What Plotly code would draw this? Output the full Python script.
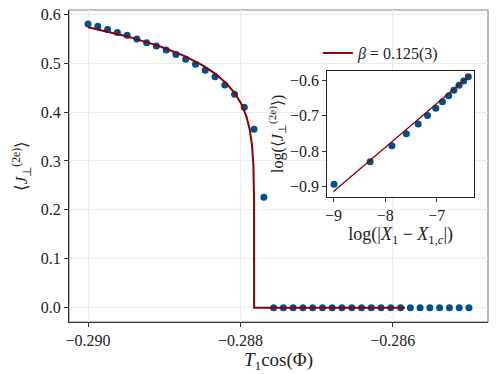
import numpy as np
import plotly.graph_objects as go

# main panel data: T1 cos(Phi) vs <J_perp^(2e)>
t_cos = [-0.290000, -0.289872, -0.289744, -0.289615, -0.289487, -0.289359, -0.289231, -0.289103,
         -0.288974, -0.288846, -0.288718, -0.288590, -0.288462, -0.288333, -0.288205, -0.288077,
         -0.287949, -0.287821, -0.287692, -0.287564, -0.287436, -0.287308, -0.287179, -0.287051,
         -0.286923, -0.286795, -0.286667, -0.286538, -0.286410, -0.286282, -0.286154, -0.286026,
         -0.285897, -0.285769, -0.285641, -0.285513, -0.285385, -0.285256, -0.285128, -0.285000]
j_perp = [0.580, 0.5755, 0.569, 0.563, 0.557, 0.5495, 0.542, 0.535, 0.527, 0.518, 0.508, 0.498,
          0.4855, 0.4725, 0.4555, 0.4365, 0.410, 0.365, 0.226,
          0, 0, 0, 0, 0, 0, 0, 0, 0, 0, 0, 0, 0, 0, 0, 0, 0, 0, 0, 0, 0]

# inset data: log-log
log_dx = [-8.99, -8.29, -7.87, -7.59, -7.36, -7.18, -7.02, -6.89, -6.77, -6.67, -6.57, -6.48, -6.39]
log_j = [-0.894, -0.830, -0.785, -0.751, -0.723, -0.699, -0.678, -0.660, -0.643, -0.627, -0.613,
         -0.601, -0.589]

# power-law fit J = A (Xc - X)^beta
beta = 0.125
amp = 1.234
x_crit = -0.28782
fit_start = -0.290
fit_end = -0.28584
inset_fit_u = [-9.0, -6.37]

blue = "rgb(0, 80, 138)"
red = "rgb(139, 0, 0)"
font = "Liberation Serif"

dist = np.geomspace(x_crit - fit_start, 1e-10, 400)
fit_x = list(x_crit - dist) + [x_crit, fit_end]
fit_y = list(amp * dist ** beta) + [0, 0]

fig = go.Figure()

fig.add_trace(go.Scatter(
    x = t_cos, y = j_perp, mode = "markers",
    marker = dict(color = blue, size = 7),
    showlegend = False
))
fig.add_trace(go.Scatter(
    x = fit_x, y = fit_y, mode = "lines",
    line = dict(color = red, width = 2),
    name = "<i>β</i> = 0.125(3)"
))

fig.add_trace(go.Scatter(
    x = log_dx, y = log_j, mode = "markers",
    marker = dict(color = blue, size = 7),
    xaxis = "x2", yaxis = "y2", showlegend = False
))
fig.add_trace(go.Scatter(
    x = inset_fit_u, y = [np.log(amp) + beta * u for u in inset_fit_u], mode = "lines",
    line = dict(color = red, width = 1.3),
    xaxis = "x2", yaxis = "y2", showlegend = False
))

axis_common = dict(
    ticks = "outside", ticklen = 4, tickcolor = "#333",
    showline = True, linecolor = "#333", linewidth = 1,
    zeroline = False, automargin = False,
    tickfont = dict(size = 16, family = font, color = "#222")
)

fig.update_layout(
    width = 498, height = 374,
    margin = dict(l = 69, r = 10, t = 10, b = 52),
    paper_bgcolor = "white", plot_bgcolor = "white",
    font = dict(family = font, color = "#222"),
    xaxis = dict(
        axis_common, domain = [0, 1],
        range = [-0.29025, -0.28475],
        tickvals = [-0.290, -0.288, -0.286],
        ticktext = ["−0.290", "−0.288", "−0.286"],
        showgrid = True, gridcolor = "#ebebeb",
        title = dict(text = "<i>T</i><sub>1</sub>cos(Φ)", font = dict(size = 19), standoff = 0)
    ),
    yaxis = dict(
        axis_common, domain = [0, 1],
        range = [-0.0293, 0.6088],
        tickvals = [0, 0.1, 0.2, 0.3, 0.4, 0.5, 0.6],
        ticktext = ["0.0", "0.1", "0.2", "0.3", "0.4", "0.5", "0.6"],
        showgrid = True, gridcolor = "#ebebeb",
        title = dict(text = "⟨<i>J</i><sub>⊥</sub><sup>(2e)</sup>⟩", font = dict(size = 17), standoff = 8)
    ),
    xaxis2 = dict(
        axis_common, anchor = "y2", domain = [0.6165, 0.9666],
        range = [-9.12, -6.28],
        tickvals = [-9, -8, -7], ticktext = ["−9", "−8", "−7"],
        mirror = True, linecolor = "#222", showgrid = False,
        title = dict(text = "log(|<i>X</i><sub>1</sub> − <i>X</i><sub>1,<i>c</i></sub>|)",
                     font = dict(size = 18), standoff = 2)
    ),
    yaxis2 = dict(
        axis_common, anchor = "x2", domain = [0.4016, 0.8045],
        range = [-0.9295, -0.5725],
        tickvals = [-0.9, -0.8, -0.7, -0.6], ticktext = ["−0.9", "−0.8", "−0.7", "−0.6"],
        mirror = True, linecolor = "#222", showgrid = False,
        title = dict(text = "log(⟨<i>J</i><sub>⊥</sub><sup>(2e)</sup>⟩)",
                     font = dict(size = 16), standoff = 2)
    ),
    legend = dict(
        x = 0.594, y = 0.862, xanchor = "left", yanchor = "middle",
        bgcolor = "rgba(255,255,255,0)", font = dict(size = 16, family = font),
        itemwidth = 30
    ),
    shapes = [dict(
        type = "rect", xref = "paper", yref = "paper", x0 = 0, y0 = 0, x1 = 1, y1 = 1,
        line = dict(color = "#888", width = 1.2), layer = "below"
    )]
)

fig.write_html("out.html", config = {"displayModeBar": False},
               post_script = "document.body.style.margin = '0px';")
